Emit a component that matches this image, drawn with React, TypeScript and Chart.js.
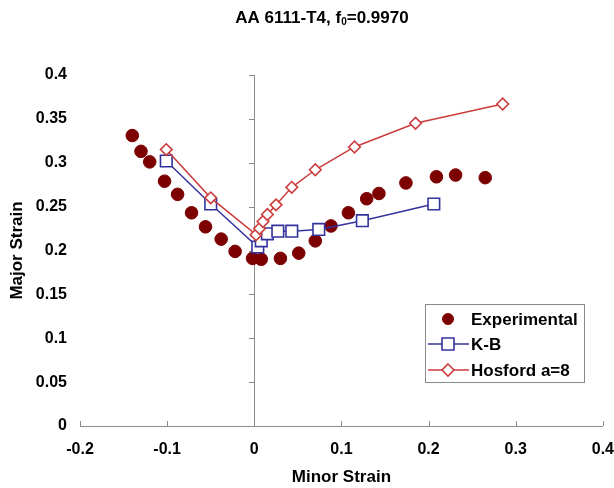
import React, { useEffect, useRef } from "react";
import { Chart, registerables } from "chart.js";

Chart.register(...registerables);

// ---- text ----
const titleMain = "AA 6111-T4, f";
const titleSub = "0";
const titleTail = "=0.9970";
const xAxisTitle = "Minor Strain";
const yAxisTitle = "Major Strain";
const seriesNames = ["Experimental", "K-B", "Hosford a=8"];

// ---- tick labels ----
const xTickLabels = ["-0.2", "-0.1", "0", "0.1", "0.2", "0.3", "0.4"];
const yTickLabels = ["0", "0.05", "0.1", "0.15", "0.2", "0.25", "0.3", "0.35", "0.4"];

// ---- data ----
const expX = [-0.14, -0.13, -0.12, -0.103, -0.088, -0.072, -0.056, -0.038, -0.022, -0.002, 0.008, 0.03, 0.051, 0.07, 0.088, 0.108, 0.129, 0.143, 0.174, 0.209, 0.231, 0.265];
const expY = [0.331, 0.313, 0.301, 0.279, 0.264, 0.243, 0.227, 0.213, 0.199, 0.191, 0.19, 0.191, 0.197, 0.211, 0.228, 0.243, 0.259, 0.265, 0.277, 0.284, 0.286, 0.283];

const kbX = [-0.101, -0.05, 0.004, 0.008, 0.015, 0.027, 0.043, 0.074, 0.124, 0.206];
const kbY = [0.302, 0.253, 0.204, 0.211, 0.219, 0.222, 0.222, 0.224, 0.234, 0.253];

const hosX = [-0.101, -0.05, 0.002, 0.006, 0.01, 0.015, 0.025, 0.043, 0.07, 0.115, 0.185, 0.285];
const hosY = [0.315, 0.26, 0.218, 0.225, 0.233, 0.241, 0.252, 0.272, 0.292, 0.318, 0.345, 0.367];

const xMin = -0.2, xMax = 0.4, xStep = 0.1;
const yMin = 0, yMax = 0.4, yStep = 0.05;

const expColor = "#7c0000";
const kbColor = "#33339e";
const hosColor = "#cc3c3c";
const axisColor = "#8a8a8a";
const FONT = "'Liberation Sans', Arial, sans-serif";

const toPts = (xs: number[], ys: number[]) => xs.map((x, i) => ({ x, y: ys[i] }));

const decorPlugin = {
  id: "decor",
  beforeDatasetsDraw(chart: any) {
    const ctx = chart.ctx;
    const xs = chart.scales.x;
    const ys = chart.scales.y;
    const y0 = ys.getPixelForValue(0);
    const x0 = xs.getPixelForValue(0);
    ctx.save();
    ctx.strokeStyle = axisColor;
    ctx.lineWidth = 1;
    ctx.beginPath();
    ctx.moveTo(xs.getPixelForValue(xMin), Math.round(y0) + 0.5);
    ctx.lineTo(xs.getPixelForValue(xMax), Math.round(y0) + 0.5);
    xs.ticks.forEach((t: any) => {
      const px = Math.round(xs.getPixelForValue(t.value)) + 0.5;
      ctx.moveTo(px, Math.round(y0));
      ctx.lineTo(px, Math.round(y0) - 5);
    });
    ctx.moveTo(Math.round(x0) + 0.5, y0);
    ctx.lineTo(Math.round(x0) + 0.5, ys.getPixelForValue(yMax));
    ys.ticks.forEach((t: any) => {
      const py = Math.round(ys.getPixelForValue(t.value)) + 0.5;
      ctx.moveTo(Math.round(x0), py);
      ctx.lineTo(Math.round(x0) - 5, py);
    });
    ctx.stroke();
    ctx.restore();
  },
  afterDraw(chart: any) {
    const ctx = chart.ctx;
    ctx.save();
    const mainFont = `bold 17px ${FONT}`;
    const subFont = `bold 10px ${FONT}`;
    ctx.font = mainFont;
    const w1 = ctx.measureText(titleMain).width;
    const w3 = ctx.measureText(titleTail).width;
    ctx.font = subFont;
    const w2 = ctx.measureText(titleSub).width;
    const total = w1 + w2 + w3;
    const cx = 322;
    const ty = 18;
    let x = cx - total / 2;
    ctx.fillStyle = "#000";
    ctx.textBaseline = "middle";
    ctx.textAlign = "left";
    ctx.font = mainFont;
    ctx.fillText(titleMain, x, ty);
    x += w1;
    ctx.font = subFont;
    ctx.fillText(titleSub, x, ty + 4);
    x += w2;
    ctx.font = mainFont;
    ctx.fillText(titleTail, x, ty);

    // legend
    const bx = 425, by = 304, bw = 159, bh = 78;
    ctx.fillStyle = "#fff";
    ctx.fillRect(bx, by, bw, bh);
    ctx.strokeStyle = "#8a8a8a";
    ctx.lineWidth = 1;
    ctx.strokeRect(bx + 0.5, by + 0.5, bw, bh);
    const rows = [319, 344, 370];
    const mx = 448;
    ctx.font = `bold 17px ${FONT}`;
    ctx.textBaseline = "middle";
    chart.data.datasets.forEach((ds: any, i: number) => {
      const ry = rows[i];
      if (ds.showLine) {
        ctx.strokeStyle = ds.borderColor;
        ctx.lineWidth = 1.5;
        ctx.beginPath();
        ctx.moveTo(428, ry);
        ctx.lineTo(469, ry);
        ctx.stroke();
      }
      ctx.lineWidth = ds.pointBorderWidth;
      ctx.strokeStyle = ds.pointBorderColor;
      ctx.fillStyle = ds.pointBackgroundColor;
      ctx.beginPath();
      if (ds.pointStyle === "circle") {
        ctx.arc(mx, ry, 5.5, 0, Math.PI * 2);
      } else if (ds.pointStyle === "rect") {
        const s = 6;
        ctx.rect(mx - s, ry - s, 2 * s, 2 * s);
      } else {
        const r = 6;
        ctx.moveTo(mx, ry - r);
        ctx.lineTo(mx + r, ry);
        ctx.lineTo(mx, ry + r);
        ctx.lineTo(mx - r, ry);
        ctx.closePath();
      }
      ctx.fill();
      ctx.stroke();
      ctx.fillStyle = "#000";
      ctx.fillText(ds.label, 471, ry + 1);
    });
    ctx.restore();
  },
};

export default function App() {
  const ref = useRef<HTMLCanvasElement | null>(null);
  useEffect(() => {
    if (!ref.current) return;
    const chart = new Chart(ref.current, {
      type: "scatter",
      data: {
        datasets: [
          {
            label: seriesNames[0],
            data: toPts(expX, expY),
            showLine: false,
            pointStyle: "circle",
            pointRadius: 6.3,
            pointBackgroundColor: expColor,
            pointBorderColor: expColor,
            pointBorderWidth: 1,
            backgroundColor: expColor,
            borderColor: expColor,
            order: 3,
          },
          {
            label: seriesNames[1],
            data: toPts(kbX, kbY),
            showLine: true,
            borderColor: kbColor,
            borderWidth: 1.5,
            pointStyle: "rect",
            pointRadius: 8.2,
            pointBackgroundColor: "#ffffff",
            pointBorderColor: kbColor,
            pointBorderWidth: 1.6,
            order: 2,
          },
          {
            label: seriesNames[2],
            data: toPts(hosX, hosY),
            showLine: true,
            borderColor: hosColor,
            borderWidth: 1.5,
            pointStyle: "rectRot",
            pointRadius: 5.8,
            pointBackgroundColor: "#ffffff",
            pointBorderColor: hosColor,
            pointBorderWidth: 1.6,
            order: 1,
          },
        ] as any,
      },
      options: {
        animation: false,
        responsive: true,
        maintainAspectRatio: false,
        layout: { padding: { top: 75, right: 0, left: 0, bottom: 0 } },
        plugins: {
          legend: { display: false },
          title: { display: false },
          tooltip: { enabled: false },
        },
        scales: {
          x: {
            type: "linear",
            min: xMin,
            max: xMax,
            afterFit: (s: any) => { s.height = 62; },
            grid: { display: false, drawTicks: true, tickLength: 14 },
            border: { display: false },
            ticks: {
              stepSize: xStep,
              padding: 0,
              color: "#000",
              font: { family: FONT, size: 16, weight: "bold" },
              maxRotation: 0,
              callback: (_v: any, i: number) => xTickLabels[i],
            },
            title: {
              display: true,
              text: xAxisTitle,
              color: "#000",
              font: { family: FONT, size: 17, weight: "bold" },
              padding: { top: 0, bottom: 0 },
            },
          },
          y: {
            type: "linear",
            min: yMin,
            max: yMax,
            afterFit: (s: any) => { s.width = 80; },
            grid: { display: false, drawTicks: false },
            border: { display: false },
            ticks: {
              stepSize: yStep,
              padding: 13,
              color: "#000",
              font: { family: FONT, size: 16, weight: "bold" },
              callback: (_v: any, i: number) => yTickLabels[i],
            },
            title: {
              display: true,
              text: yAxisTitle,
              color: "#000",
              font: { family: FONT, size: 17, weight: "bold" },
              padding: { top: 7, bottom: 0 },
            },
          },
        },
      } as any,
      plugins: [decorPlugin],
    });
    return () => chart.destroy();
  }, []);
  return (
    <div style={{ position: "fixed", left: 0, top: 0, width: 614, height: 488, background: "#fff" }}>
      <canvas ref={ref} />
    </div>
  );
}
